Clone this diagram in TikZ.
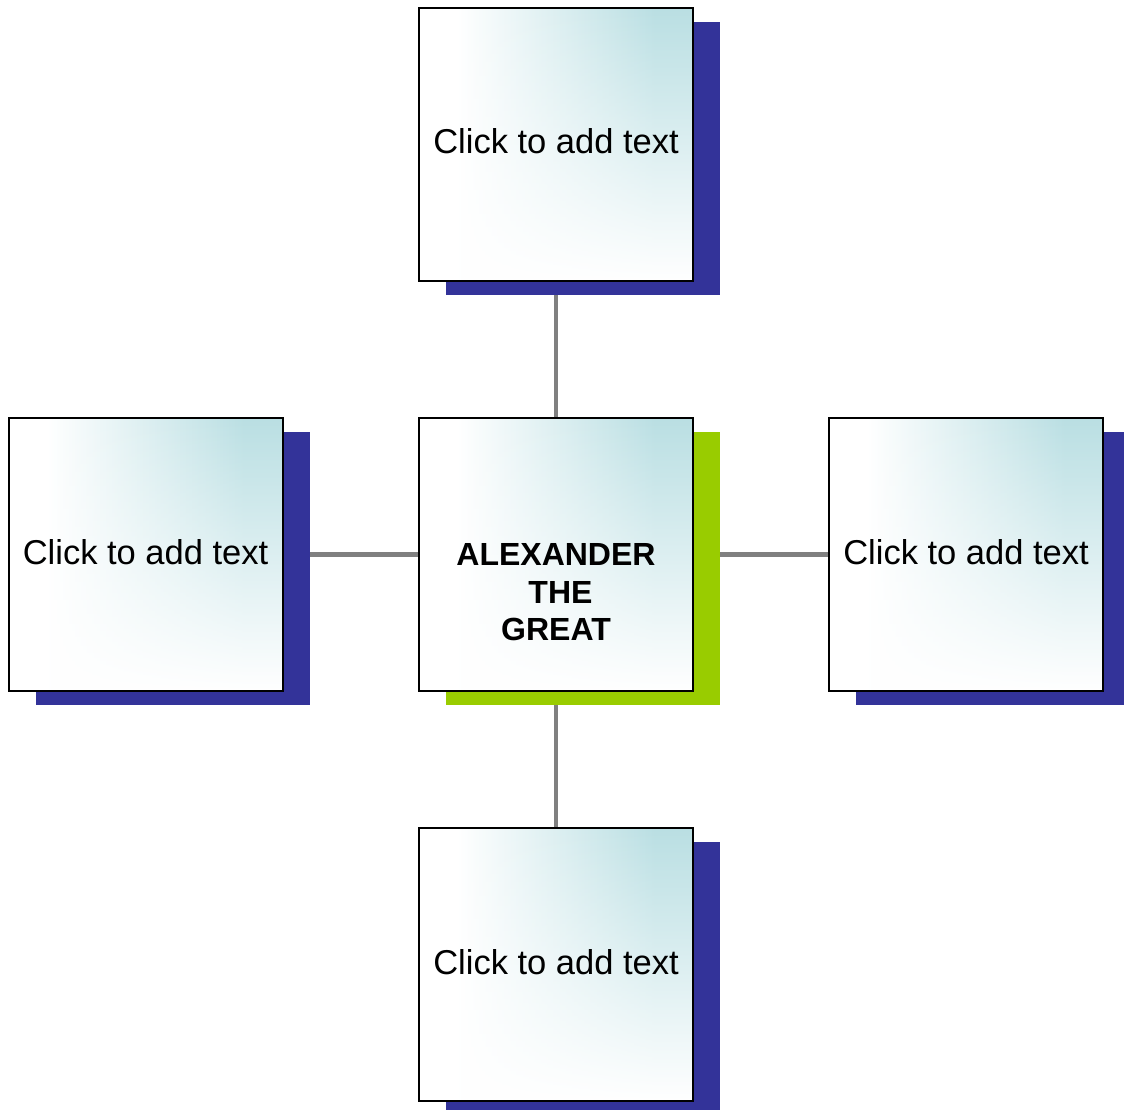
\documentclass[tikz,border=0pt]{standalone}
\usepackage{fontspec}
\setmainfont{Liberation Sans}
\usetikzlibrary{shadows,fadings,backgrounds}
\definecolor{tealc}{RGB}{186,223,227}
\definecolor{shblue}{RGB}{51,51,153}
\definecolor{shgreen}{RGB}{153,204,0}
\definecolor{connc}{RGB}{128,128,128}
\pgfdeclarehorizontalshading{boxsh}{100bp}{color(0bp)=(white); color(32bp)=(white); color(68bp)=(tealc); color(100bp)=(tealc)}
\tikzfading[name=fadedown, top color=transparent!100, middle color=transparent!80, bottom color=transparent!0]
\tikzset{
  boxn/.style={rectangle, minimum width=274, minimum height=273, inner sep=0, outer sep=0,
    draw=black, line width=2, shading=boxsh,
    path picture={\fill[white, path fading=fadedown] (path picture bounding box.south west) rectangle (path picture bounding box.north east);}},
  blueshadow/.style={general shadow={fill=shblue, shadow xshift=27, shadow yshift=-14}},
  greenshadow/.style={general shadow={fill=shgreen, shadow xshift=27, shadow yshift=-14}},
  smalltext/.style={anchor=base, inner sep=0, font=\fontsize{34.5}{40}\selectfont},
  maintext/.style={anchor=base, inner sep=0, align=center, font=\fontsize{32}{37.3}\selectfont\bfseries},
  conn/.style={draw=connc, line width=4.5}
}
\begin{document}
\begin{tikzpicture}[x=1pt,y=1pt]
\useasboundingbox (0,0) rectangle (1124,-1110);
\node[boxn, blueshadow] (t) at (556,-144.5) {};
\node[boxn, blueshadow] (l) at (145.5,-554.5) {};
\node[boxn, greenshadow] (c) at (556,-554.5) {};
\node[boxn, blueshadow] (r) at (966,-554.5) {};
\node[boxn, blueshadow] (b) at (556,-964.5) {};
\begin{scope}[on background layer]
  \draw[conn] (c.center) -- (t.center);
  \draw[conn] (c.center) -- (l.center);
  \draw[conn] (c.center) -- (r.center);
  \draw[conn] (c.center) -- (b.center);
\end{scope}
\node[smalltext] (tt) at ([yshift=-9.5]t.center) {Click to add text};
\node[smalltext] (lt) at ([yshift=-9.5]l.center) {Click to add text};
\node[smalltext] (rt) at ([yshift=-9.5]r.center) {Click to add text};
\node[smalltext] (bt) at ([yshift=-9.5]b.center) {Click to add text};
\node[maintext] (ct) at ([yshift=-86]c.center) {ALEXANDER\\\kern8.9pt THE\\GREAT};
\end{tikzpicture}
\end{document}
